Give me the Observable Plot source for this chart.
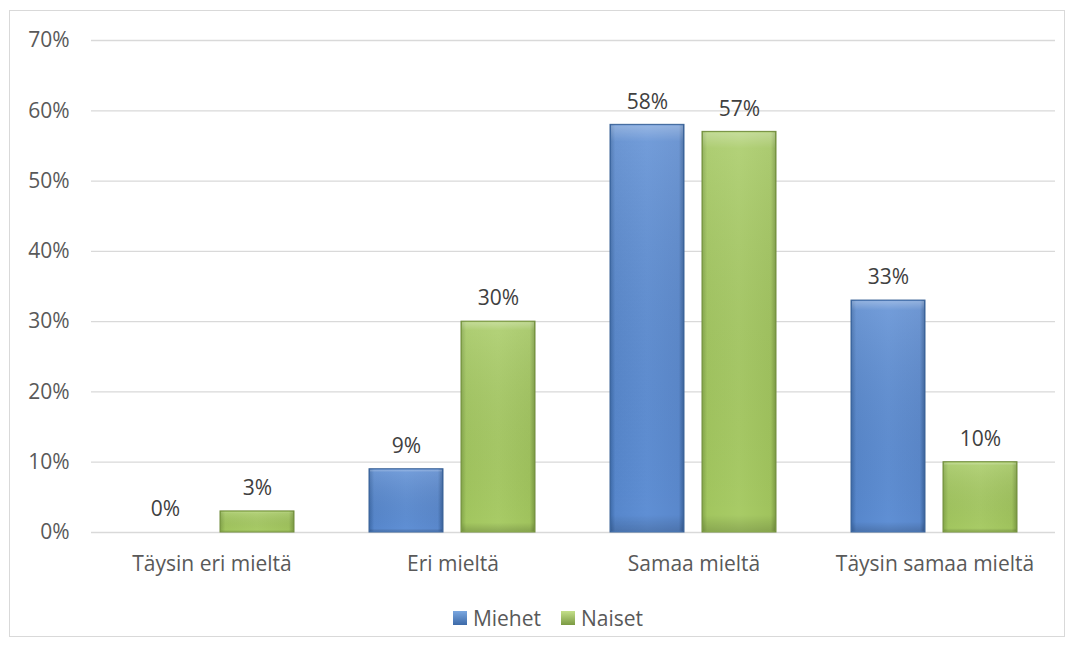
<!DOCTYPE html>
<html>
<head>
<meta charset="utf-8">
<script src="https://cdn.jsdelivr.net/npm/d3@7"></script>
<script src="https://cdn.jsdelivr.net/npm/@observablehq/plot@0.6"></script>
<style>
  html, body { margin: 0; padding: 0; background: #fff; }
  body { width: 1076px; height: 648px; position: relative; overflow: hidden; font-family: "Open Sans", sans-serif; }
  #frame { position: absolute; left: 9px; top: 10px; width: 1056px; height: 627px; border: 1px solid #d9d9d9; box-sizing: border-box; }
  #chart { position: absolute; left: 0; top: 0; }
  #legend { position: absolute; left: 0; width: 1076px; top: 604px; display: flex; justify-content: center; gap: 20px; font-size: 21px; color: #595959; padding-left: 20px; box-sizing: border-box; }
  .item { display: flex; align-items: center; gap: 6px; }
  .sw { width: 14px; height: 14px; display: inline-block; box-sizing: border-box; }
</style>
</head>
<body>
<div id="frame"></div>
<div id="chart"></div>
<div id="legend"></div>
<script>
const categories = ["Täysin eri mieltä", "Eri mieltä", "Samaa mieltä", "Täysin samaa mieltä"];
const series = ["Miehet", "Naiset"];
const miehet = [0, 9, 58, 33];
const naiset = [3, 30, 57, 10];
const yTicks = [0, 0.1, 0.2, 0.3, 0.4, 0.5, 0.6, 0.7];

const data = [];
categories.forEach((c, i) => {
  data.push({category: c, series: "Miehet", value: miehet[i] / 100});
  data.push({category: c, series: "Naiset", value: naiset[i] / 100});
});

const fillFor = {Miehet: "url(#gBlue)", Naiset: "url(#gGreen)"};

const chart = Plot.plot({
  width: 1076,
  height: 590,
  marginLeft: 90,
  marginRight: 21,
  marginTop: 40,
  marginBottom: 58,
  style: {fontFamily: "'Open Sans', sans-serif", fontSize: "21px", color: "#595959", background: "transparent"},
  fx: {domain: categories, padding: 0, label: null},
  x: {domain: series, paddingInner: 0.194, paddingOuter: 0.393, axis: null},
  y: {domain: [0, 0.7], ticks: yTicks, label: null},
  marks: [
    Plot.gridY(yTicks, {stroke: "#d9d9d9", strokeOpacity: 1, strokeWidth: 1.3}),
    Plot.axisY(yTicks, {tickSize: 0, tickPadding: 22, tickFormat: d => Math.round(d * 100) + "%", fill: "#595959", fontSize: 21}),
    Plot.axisFx({anchor: "bottom", tickSize: 0, tickPadding: 24, fill: "#595959", label: null, fontSize: 21}),
    Plot.barY(data, {fx: "category", x: "series", y: "value", fill: d => fillFor[d.series], stroke: d => d.series === "Miehet" ? "#3a6296" : "#708c3c", strokeWidth: 1}),
    Plot.barY(data, {fx: "category", x: "series", y: "value", fill: "url(#gBevel)", inset: 1}),
    Plot.text(data, {fx: "category", x: "series", y: "value", text: d => Math.round(d.value * 100) + "%", dy: -23, fill: "#404040", fontSize: 21})
  ]
});

const defs = `<defs>
<linearGradient id="gBlue" x1="0" x2="1" y1="0" y2="0">
  <stop offset="0" stop-color="#3d6aa8"/>
  <stop offset="0.07" stop-color="#5787cc"/>
  <stop offset="0.5" stop-color="#5f8fd4"/>
  <stop offset="0.93" stop-color="#5a88cc"/>
  <stop offset="1" stop-color="#3a629a"/>
</linearGradient>
<linearGradient id="gGreen" x1="0" x2="1" y1="0" y2="0">
  <stop offset="0" stop-color="#84a64a"/>
  <stop offset="0.07" stop-color="#a2c65f"/>
  <stop offset="0.5" stop-color="#a8cb66"/>
  <stop offset="0.93" stop-color="#a0c35d"/>
  <stop offset="1" stop-color="#7b9a43"/>
</linearGradient>
<linearGradient id="gBevel" x1="0" x2="0" y1="0" y2="1" gradientUnits="objectBoundingBox">
  <stop offset="0" stop-color="#ffffff" stop-opacity="0.35"/>
  <stop offset="0.04" stop-color="#ffffff" stop-opacity="0.12"/>
  <stop offset="0.96" stop-color="#000000" stop-opacity="0"/>
  <stop offset="1" stop-color="#000000" stop-opacity="0.15"/>
</linearGradient>
</defs>`;
chart.insertAdjacentHTML("afterbegin", defs);
document.getElementById("chart").appendChild(chart);

const legend = document.getElementById("legend");
const swatch = {Miehet: "linear-gradient(to bottom, #7aa7e0, #3d6aa8)", Naiset: "linear-gradient(to bottom, #c4e08a, #7b9a43)"};
series.forEach(s => {
  const it = document.createElement("div");
  it.className = "item";
  it.innerHTML = `<span class="sw" style="background:${swatch[s]}"></span><span>${s}</span>`;
  legend.appendChild(it);
});
</script>
</body>
</html>
